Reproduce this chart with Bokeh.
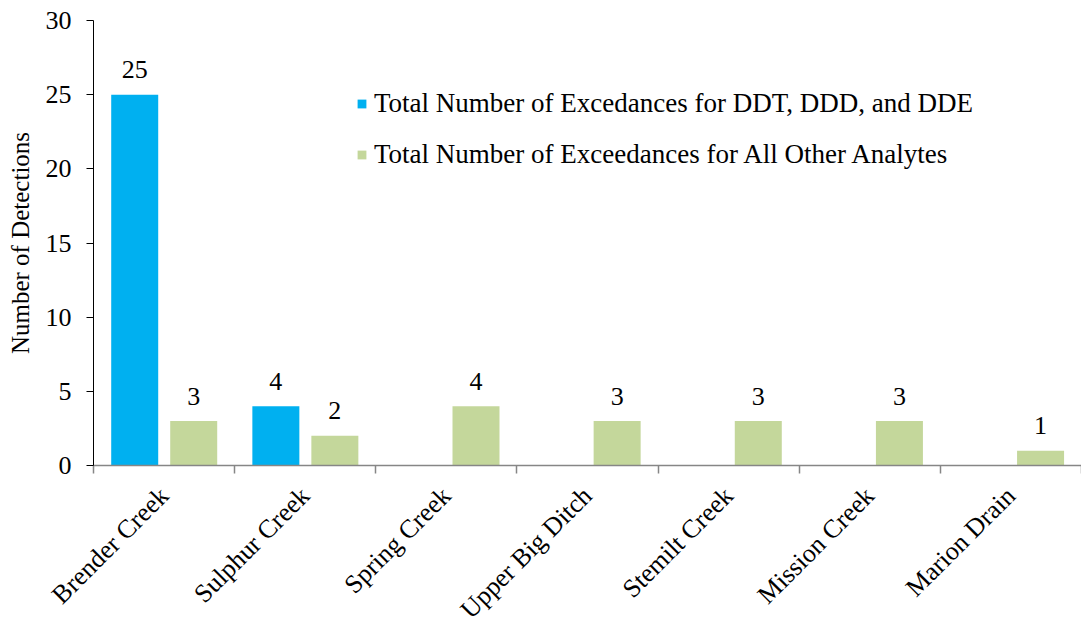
import math
from bokeh.plotting import figure
from bokeh.models import (ColumnDataSource, Range1d, FixedTicker, Legend, LegendItem,
                          Label)
from bokeh.transform import dodge
from bokeh.core.properties import value
from bokeh.embed import file_html
from bokeh.resources import INLINE

sites = ["Brender Creek", "Sulphur Creek", "Spring Creek", "Upper Big Ditch",
         "Stemilt Creek", "Mission Creek", "Marion Drain"]
ddt_counts = [25, 4, 0, 0, 0, 0, 0]
other_counts = [3, 2, 4, 3, 3, 3, 1]
y_ticks = [0, 5, 10, 15, 20, 25, 30]
y_title = "Number of Detections"
series_names = ["Total Number of Excedances for DDT, DDD, and DDE",
                "Total Number of Exceedances for All Other Analytes"]

BLUE = "#00B0F0"
GREEN = "#C4D79B"
FONT = "Liberation Serif"
FS = "26px"

# page geometry in pixels: plot area spans x 93..1081, y 20..465
W, H = 1081, 622
LEFT, RIGHT, TOP, BOTTOM = 93, 1081, 20, 465
n = len(sites)
y_max = y_ticks[-1]
x_per_px = n / (RIGHT - LEFT)
y_per_px = y_max / (BOTTOM - TOP)
x_range = Range1d(-LEFT * x_per_px, n + (W - RIGHT) * x_per_px)
y_range = Range1d(-(H - BOTTOM) * y_per_px, y_max + TOP * y_per_px)

centers = [i + 0.5 for i in range(n)]
src = ColumnDataSource(dict(x=centers, ddt=ddt_counts, other=other_counts,
                            ddt_lbl=[str(v) if v > 0 else "" for v in ddt_counts],
                            oth_lbl=[str(v) if v > 0 else "" for v in other_counts]))

p = figure(width=W, height=H, output_backend="svg", toolbar_location=None,
           x_range=x_range, y_range=y_range,
           min_border_left=0, min_border_right=0, min_border_top=0,
           min_border_bottom=0)
p.outline_line_color = None
p.xgrid.visible = False
p.ygrid.visible = False

bw = 0.333
r1 = p.vbar(x=dodge("x", -0.208, range=p.x_range), top="ddt", bottom=0, width=bw,
            source=src, fill_color=BLUE, line_color=None)
r2 = p.vbar(x=dodge("x", 0.21, range=p.x_range), top="other", bottom=0, width=bw,
            source=src, fill_color=GREEN, line_color=None)

for col, ycol, off in (("ddt_lbl", "ddt", -0.208), ("oth_lbl", "other", 0.21)):
    p.text(x=dodge("x", off, range=p.x_range), y=ycol,
           text=col, source=src, text_align="center", text_baseline="alphabetic",
           y_offset=-25, text_font=value(FONT), text_font_size=FS, text_color="black")

# y axis drawn at x = 0
ya = p.yaxis[0]
ya.fixed_location = 0
ya.ticker = FixedTicker(ticks=y_ticks)
ya.bounds = (y_ticks[0], y_ticks[-1])
ya.axis_line_color = "black"
ya.major_tick_line_color = "black"
ya.major_tick_out = 7
ya.major_tick_in = 0
ya.minor_tick_line_color = None
ya.major_label_text_font = FONT
ya.major_label_text_font_size = FS
ya.major_label_text_color = "black"
ya.major_label_standoff = 15

# x axis drawn at y = 0, ticks at category boundaries, names at centres
xa = p.xaxis[0]
xa.fixed_location = 0
xa.bounds = (0, n)
xa.ticker = FixedTicker(ticks=centers, minor_ticks=list(range(n + 1)))
xa.major_label_overrides = {c: s for c, s in zip(centers, sites)}
xa.axis_line_color = "#868686"
xa.axis_line_width = 1.5
xa.major_tick_line_color = None
xa.minor_tick_line_color = "#868686"
xa.minor_tick_line_width = 1.5
xa.minor_tick_out = 8
xa.minor_tick_in = 0
xa.major_label_orientation = math.pi / 4
xa.major_label_text_font = FONT
xa.major_label_text_font_size = FS
xa.major_label_text_color = "black"
xa.major_label_standoff = 18

# y-axis title, centred on the 0..30 span
p.add_layout(Label(x=20, y=H - (TOP + BOTTOM) / 2, x_units="screen", y_units="screen",
                   text=y_title, angle=math.pi / 2, text_align="center",
                   text_baseline="middle", text_font=FONT, text_font_size="25px",
                   text_color="black"))

legend = Legend(items=[LegendItem(label=series_names[0], renderers=[r1]),
                       LegendItem(label=series_names[1], renderers=[r2])],
                location=(356, 452), padding=0, margin=0, spacing=20,
                glyph_width=11, glyph_height=11, label_standoff=7,
                label_text_font=FONT, label_text_font_size="27px",
                label_text_color="black", border_line_color=None,
                background_fill_alpha=0)
p.add_layout(legend, "center")

open("out.html", "w").write(file_html(p, INLINE))
